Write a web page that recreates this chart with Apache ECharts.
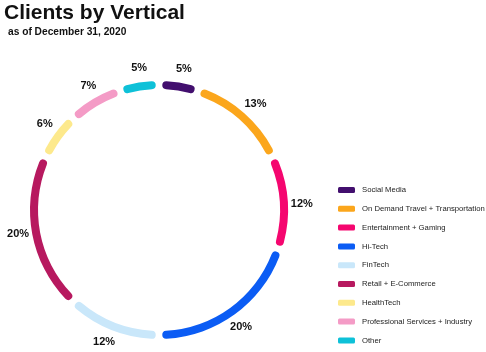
<!DOCTYPE html>
<html lang="en">
<head>
    <meta charset="UTF-8">
    <title>Clients by Vertical</title>
    <script src="https://cdn.jsdelivr.net/npm/echarts@6/dist/echarts.min.js"></script>
    <style>
        html, body { margin: 0; padding: 0; background: #fff; }
        #chart { width: 486px; height: 352px; }
    </style>
</head>
<body>
    <div id="chart"></div>
    <script>
        // data
        var verticals = ['Social Media', 'On Demand Travel + Transportation', 'Entertainment + Gaming',
            'Hi-Tech', 'FinTech', 'Retail + E-Commerce', 'HealthTech', 'Professional Services + Industry', 'Other'];
        var shares = [5, 13, 12, 20, 12, 20, 6, 7, 5];
        var colors = ['#420f6e', '#fba61c', '#f5066f', '#0b5cf4', '#c9e7fa', '#b7195f', '#fde98c', '#f49bc6', '#0ec1d8'];

        var ringData = [];
        var labelData = [];
        for (var i = 0; i < verticals.length; i++) {
            ringData.push({ name: verticals[i], value: shares[i], itemStyle: { color: colors[i] } });
            labelData.push({ name: verticals[i], value: shares[i] });
        }

        var center = [159, 210];
        var font = 'Liberation Sans';
        var myChart = echarts.init(document.getElementById('chart'));
        myChart.setOption({
            backgroundColor: '#fff',
            animation: false,
            title: [{
                text: 'Clients by Vertical',
                left: -1,
                top: -2,
                textStyle: { fontFamily: font, fontSize: 21, fontWeight: 'bold', color: '#111' }
            }, {
                text: 'as of December 31, 2020',
                left: 3,
                top: 22,
                textStyle: { fontFamily: font, fontSize: 10.2, fontWeight: 'bold', color: '#111' }
            }],
            legend: {
                orient: 'vertical',
                left: 338,
                top: 186,
                padding: 0,
                itemWidth: 17,
                itemHeight: 6,
                itemGap: 10.8,
                icon: 'roundRect',
                selectedMode: false,
                textStyle: { fontFamily: font, fontSize: 7.7, color: '#222', padding: [0, 0, 0, 2] },
                data: verticals
            },
            series: [{
                // the ring
                type: 'pie',
                center: center,
                radius: [121, 129],
                startAngle: 90,
                padAngle: 3,
                itemStyle: { borderRadius: 4 },
                label: { show: false },
                labelLine: { show: false },
                emphasis: { disabled: true },
                silent: true,
                data: ringData
            }, {
                // invisible ring that only carries the percent labels
                type: 'pie',
                center: center,
                radius: [132, 148],
                startAngle: 89,
                padAngle: 3,
                itemStyle: { color: 'rgba(0,0,0,0)' },
                label: {
                    show: true,
                    position: 'inside',
                    formatter: '{c}%',
                    fontFamily: font,
                    fontSize: 11,
                    fontWeight: 'bold',
                    color: '#111'
                },
                labelLine: { show: false },
                emphasis: { disabled: true },
                silent: true,
                data: labelData
            }]
        });
    </script>
</body>
</html>
